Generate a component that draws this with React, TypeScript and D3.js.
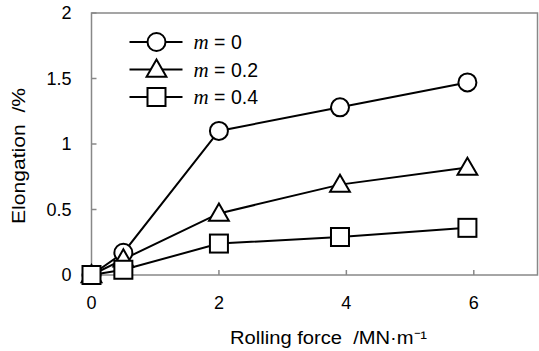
import * as d3 from 'd3';

const forces = [0, 0.5, 2, 3.9, 5.9];
const m0 = [0, 0.17, 1.1, 1.28, 1.47];
const m02 = [0, 0.12, 0.47, 0.69, 0.82];
const m04 = [0, 0.04, 0.24, 0.29, 0.36];
const seriesLabels = ['0', '0.2', '0.4'];
const markers = ['circle', 'triangle', 'square'];
const xTicks = [0, 2, 4, 6];
const yTicks = [0, 0.5, 1, 1.5, 2];

const width = 539;
const height = 351;
const margin = { top: 13, right: 1.5, bottom: 76, left: 91.5 };
const innerW = width - margin.left - margin.right;
const innerH = height - margin.top - margin.bottom;

const font = '"Liberation Sans", Arial, sans-serif';

function Marker({ kind, cx, cy }: { kind: string; cx: number; cy: number }) {
  const common = { fill: '#fff', stroke: '#000', strokeWidth: 2 };
  if (kind === 'circle') return <circle cx={cx} cy={cy} r={9} {...common} />;
  if (kind === 'square') return <rect x={cx - 9} y={cy - 9} width={18} height={18} {...common} />;
  const sym = d3.symbol().type(d3.symbolTriangle).size(170)();
  return <path d={sym ?? ''} transform={`translate(${cx},${cy + 1.5})`} {...common} />;
}

export default function App() {
  const x = d3.scaleLinear().domain([0, 7]).range([0, innerW]);
  const y = d3.scaleLinear().domain([0, 2]).range([innerH, 0]);
  const line = d3
    .line<number>()
    .x((_, i) => x(forces[i]))
    .y((d) => y(d));
  const series = [m0, m02, m04];

  return (
    <svg width={width} height={height} style={{ position: 'absolute', left: 0, top: 0 }}>
      <rect width={width} height={height} fill="#fff" />
      <g transform={`translate(${margin.left},${margin.top})`}>
        {/* frame */}
        <rect x={0} y={0} width={innerW} height={innerH} fill="none" stroke="#888" strokeWidth={1.5} />

        {/* y ticks */}
        {yTicks.map((t) => (
          <g key={`y${t}`}>
            <line x1={0} x2={5} y1={y(t)} y2={y(t)} stroke="#888" strokeWidth={1.5} />
            <text
              x={-20}
              y={y(t)}
              dy="0.35em"
              textAnchor="end"
              style={{ fontFamily: font, fontSize: 18 }}
            >
              {t}
            </text>
          </g>
        ))}

        {/* x ticks */}
        {xTicks.map((t) => (
          <g key={`x${t}`}>
            <line x1={x(t)} x2={x(t)} y1={innerH} y2={innerH - 5} stroke="#888" strokeWidth={1.5} />
            <text
              x={x(t)}
              y={innerH + 28}
              dy="0.35em"
              textAnchor="middle"
              style={{ fontFamily: font, fontSize: 18 }}
            >
              {t}
            </text>
          </g>
        ))}

        {/* series */}
        {series.map((s, si) => (
          <path key={`l${si}`} d={line(s) ?? ''} fill="none" stroke="#000" strokeWidth={2} />
        ))}
        {series.map((s, si) =>
          s.map((v, i) => (
            <Marker key={`m${si}-${i}`} kind={markers[si]} cx={x(forces[i])} cy={y(v)} />
          )),
        )}

        {/* legend */}
        {seriesLabels.map((lab, i) => {
          const ly = 29 + i * 27.5;
          return (
            <g key={`lg${i}`}>
              <line x1={38} x2={91} y1={ly} y2={ly} stroke="#000" strokeWidth={2} />
              <Marker kind={markers[i]} cx={65} cy={ly} />
              <text x={102} y={ly} dy="0.35em" style={{ fontSize: 21 }}>
                <tspan style={{ fontFamily: '"Liberation Serif", serif', fontStyle: 'italic' }}>m</tspan>
                <tspan style={{ fontFamily: font, fontSize: 19.5 }}>{'\u00a0= ' + lab}</tspan>
              </text>
            </g>
          );
        })}
      </g>

      {/* axis titles */}
      <text
        x={230}
        y={338}
        dy="0.35em"
        textLength={197}
        lengthAdjust="spacingAndGlyphs"
        style={{ fontFamily: font, fontSize: 18 }}
      >
        {'Rolling force\u00a0\u00a0/MN·m⁻¹'}
      </text>
      <text
        transform={`translate(19,224) rotate(-90)`}
        dy="0.35em"
        textLength={136}
        lengthAdjust="spacingAndGlyphs"
        style={{ fontFamily: font, fontSize: 18 }}
      >
        {'Elongation\u00a0\u00a0/%'}
      </text>
    </svg>
  );
}
